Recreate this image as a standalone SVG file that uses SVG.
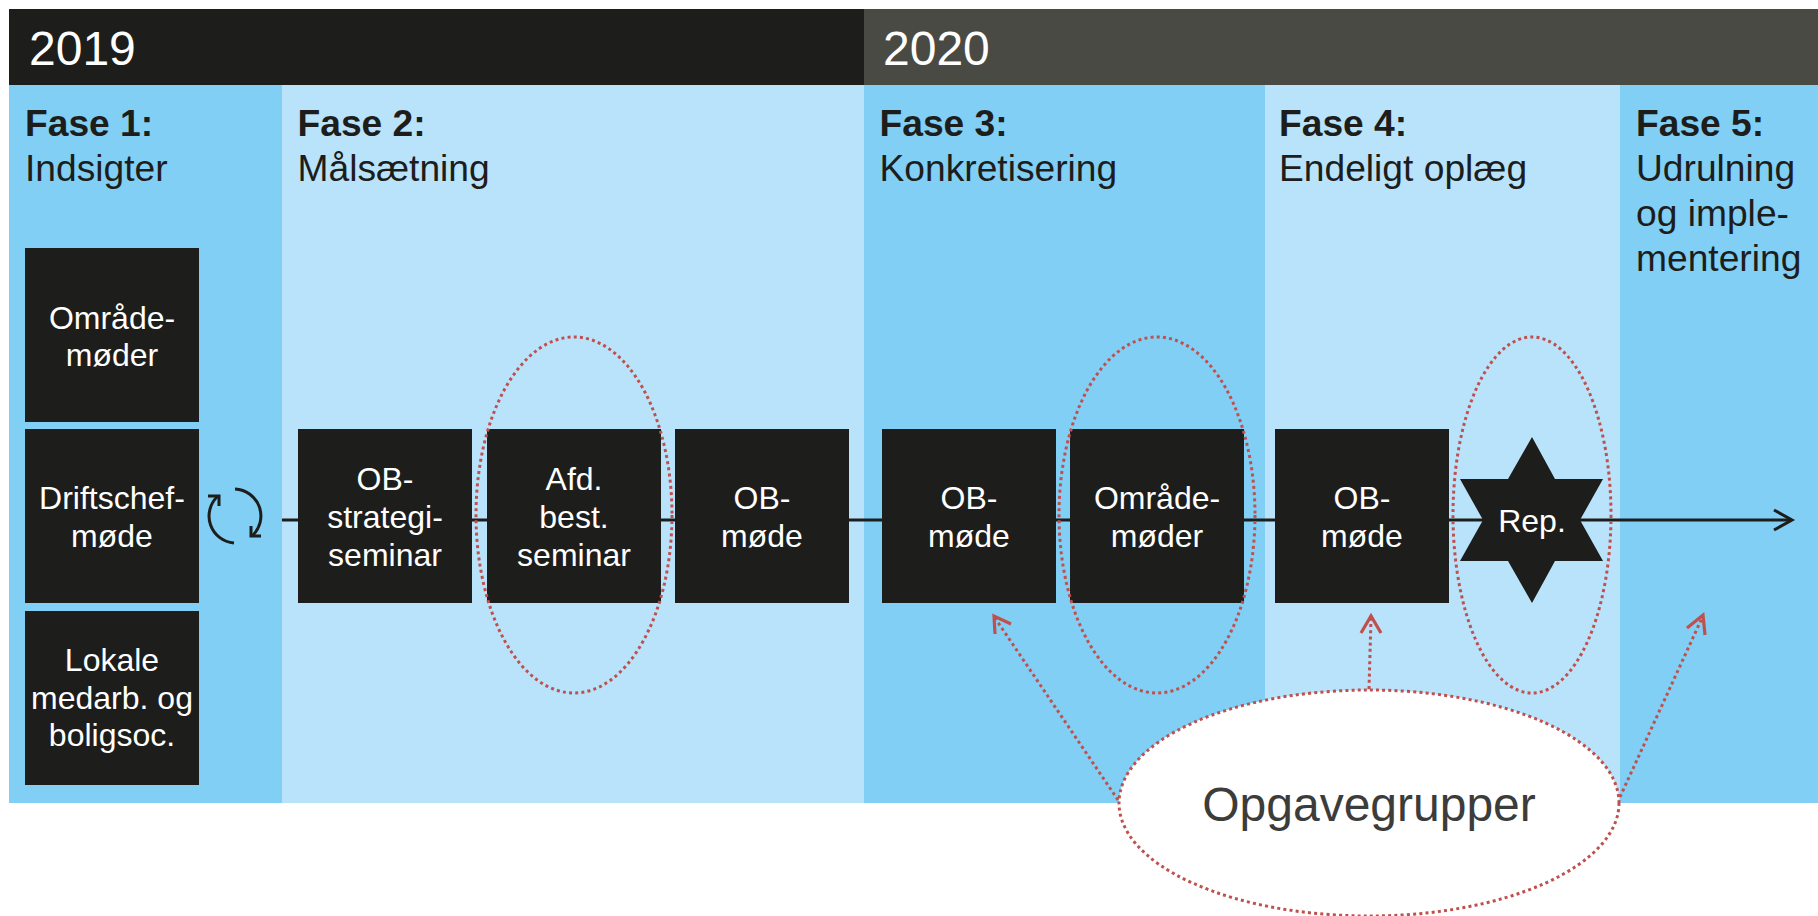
<svg xmlns="http://www.w3.org/2000/svg" width="1818" height="916" viewBox="0 0 1818 916">
<style>
text{font-family:"Liberation Sans",Arial,sans-serif}
.a{fill:#81cff5}.b{fill:#b9e3fa}
.box{fill:#1d1d1b}
.t{fill:#fff;font-size:32px;text-anchor:middle}
.h{fill:#fff;font-size:48px}
.f{fill:#1d1d1b;font-size:37.2px}
.fb{font-weight:bold}
.dot{fill:none;stroke:#c0504d;stroke-width:3;stroke-dasharray:3 3.2}
.head{fill:none;stroke:#c0504d;stroke-width:3.2}
.ln{fill:none;stroke:#1d1d1b;stroke-width:3}
</style>
<rect width="1818" height="916" fill="#fff"/>
<g id="bands">
<rect class="a" x="9" y="85" width="273" height="718"/>
<rect class="b" x="282" y="85" width="582" height="718"/>
<rect class="a" x="864" y="85" width="401" height="718"/>
<rect class="b" x="1265" y="85" width="355" height="718"/>
<rect class="a" x="1620" y="85" width="198" height="718"/>
<rect x="9" y="9" width="855" height="76" fill="#1d1d1b"/>
<rect x="864" y="9" width="954" height="76" fill="#4a4a44"/>
<text class="h" x="29" y="65">2019</text>
<text class="h" x="883" y="65">2020</text>
</g>
<g id="phase-labels">
<text class="f" x="25" y="136"><tspan class="fb">Fase 1:</tspan><tspan x="25" dy="45">Indsigter</tspan></text>
<text class="f" x="297.5" y="136"><tspan class="fb">Fase 2:</tspan><tspan x="297.5" dy="45">Målsætning</tspan></text>
<text class="f" x="879.5" y="136"><tspan class="fb">Fase 3:</tspan><tspan x="879.5" dy="45">Konkretisering</tspan></text>
<text class="f" x="1279" y="136"><tspan class="fb">Fase 4:</tspan><tspan x="1279" dy="45">Endeligt oplæg</tspan></text>
<text class="f" x="1636" y="136"><tspan class="fb">Fase 5:</tspan><tspan x="1636" dy="45">Udrulning</tspan><tspan x="1636" dy="45">og imple-</tspan><tspan x="1636" dy="45">mentering</tspan></text>
</g>
<g id="connectors">
<path class="ln" d="M282 520H1792"/>
<path class="ln" d="M1774 510L1792 520L1774 530"/>
</g>
<g id="node-omrade1"><rect class="box" x="25" y="248" width="174" height="174"/><text class="t" x="112" y="329">Område-<tspan x="112" dy="37">møder</tspan></text></g>
<g id="node-driftschef"><rect class="box" x="25" y="429" width="174" height="174"/><text class="t" x="112" y="509">Driftschef-<tspan x="112" dy="38">møde</tspan></text></g>
<g id="node-lokale"><rect class="box" x="25" y="611" width="174" height="174"/><text class="t" x="112" y="671">Lokale<tspan x="112" dy="38">medarb. og</tspan><tspan x="112" dy="37">boligsoc.</tspan></text></g>
<g id="node-cycle"><path class="ln" d="M235 489A27 27 0 0 1 252 536M234 543A27 27 0 0 1 218 496"/><path class="ln" d="M208 496H219V506M251 526V536H261"/></g>
<g id="node-ob1"><rect class="box" x="298" y="429" width="174" height="174"/><text class="t" x="385" y="490">OB-<tspan x="385" dy="38">strategi-</tspan><tspan x="385" dy="38">seminar</tspan></text></g>
<g id="node-afd"><rect class="box" x="487" y="429" width="174" height="174"/><text class="t" x="574" y="490">Afd.<tspan x="574" dy="38">best.</tspan><tspan x="574" dy="38">seminar</tspan></text></g>
<g id="node-ob2"><rect class="box" x="675" y="429" width="174" height="174"/><text class="t" x="762" y="509">OB-<tspan x="762" dy="38">møde</tspan></text></g>
<g id="node-ob3"><rect class="box" x="882" y="429" width="174" height="174"/><text class="t" x="969" y="509">OB-<tspan x="969" dy="38">møde</tspan></text></g>
<g id="node-omrade2"><rect class="box" x="1070" y="429" width="174" height="174"/><text class="t" x="1157" y="509">Område-<tspan x="1157" dy="38">møder</tspan></text></g>
<g id="node-ob4"><rect class="box" x="1275" y="429" width="174" height="174"/><text class="t" x="1362" y="509">OB-<tspan x="1362" dy="38">møde</tspan></text></g>
<g id="node-rep"><polygon class="box" points="1532,437 1555,479 1603,479 1580,520 1603,561 1555,561 1532,603 1508,561 1460,561 1483,520 1460,479 1508,479"/><text class="t" x="1532" y="532">Rep.</text></g>
<g id="highlights">
<ellipse class="dot" cx="574" cy="515" rx="98" ry="178"/>
<ellipse class="dot" cx="1157" cy="515" rx="98" ry="178"/>
<ellipse class="dot" cx="1532" cy="515" rx="79" ry="178"/>
</g>
<g id="node-opgavegrupper">
<ellipse cx="1369" cy="803" rx="250" ry="113" fill="#fff"/>
<ellipse class="dot" cx="1369" cy="803" rx="250" ry="113"/>
<text x="1369" y="821" font-size="48" fill="#3c3c3a" text-anchor="middle">Opgavegrupper</text>
</g>
<g id="task-connectors">
<path class="dot" d="M1118 800L995 618"/><path class="head" d="M995 634L994 616L1011 624"/>
<path class="dot" d="M1369 689L1371 618"/><path class="head" d="M1361 633L1371 616L1381 633"/>
<path class="dot" d="M1620 797L1702 618"/><path class="head" d="M1687 628L1703 615L1705 635"/>
</g>
</svg>
